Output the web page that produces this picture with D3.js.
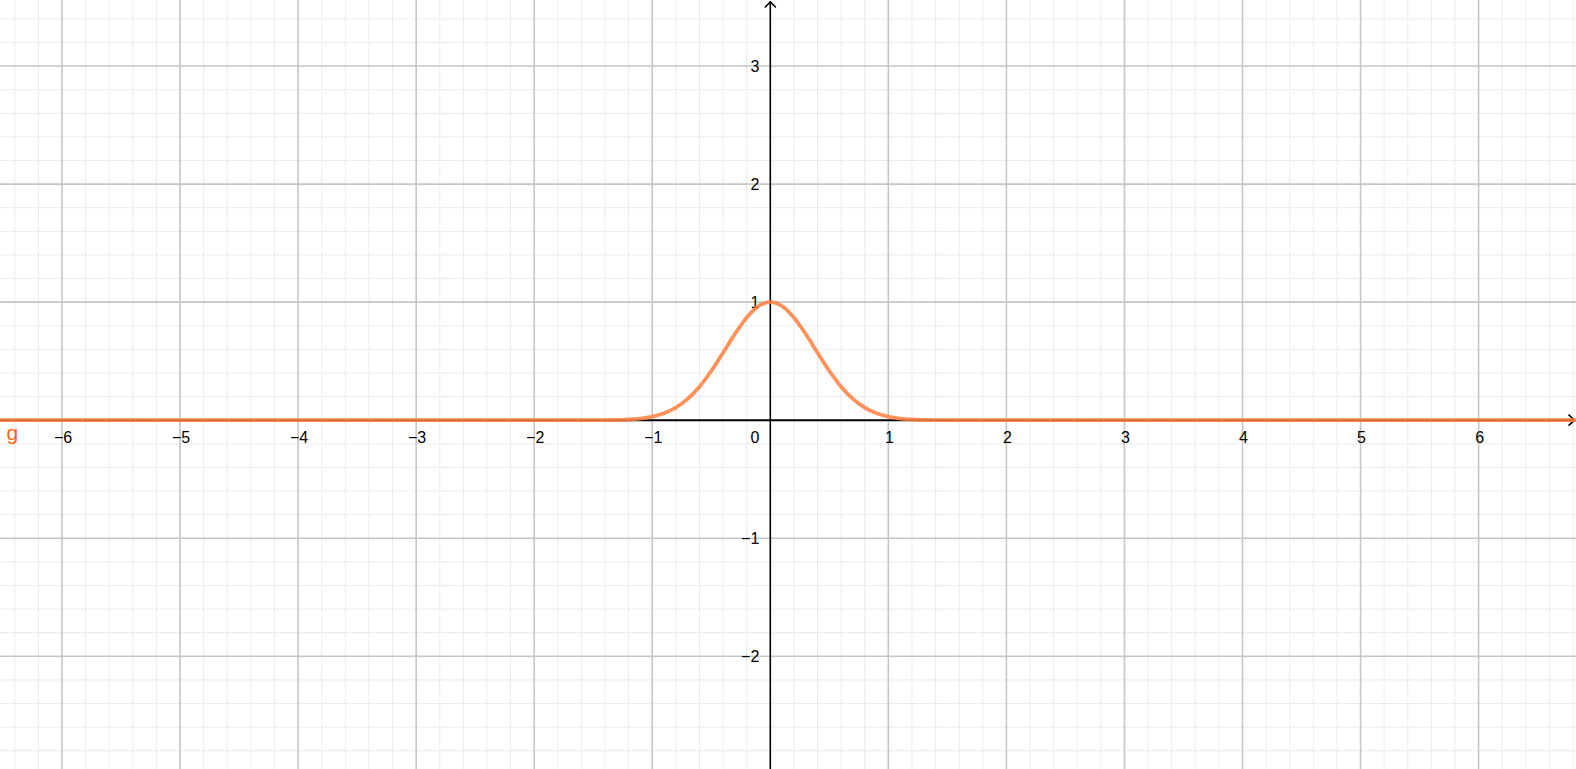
<!DOCTYPE html>
<html>
<head>
<meta charset="utf-8">
<script src="https://cdn.jsdelivr.net/npm/d3@7/dist/d3.min.js"></script>
<style>
html,body{margin:0;padding:0;background:#fff;overflow:hidden;}
svg{display:block;}
</style>
</head>
<body>
<svg id="chart" width="1576" height="769"></svg>
<script>
// ---- data ----
const xTickValues = [-6, -5, -4, -3, -2, -1, 1, 2, 3, 4, 5, 6];
const yTickValues = [-2, -1, 1, 2, 3];
const xTickLabels = ["\u22126", "\u22125", "\u22124", "\u22123", "\u22122", "\u22121", "1", "2", "3", "4", "5", "6"];
const yTickLabels = ["\u22122", "\u22121", "1", "2", "3"];
const originLabel = "0";
const curveName = "g";
const gX = [-6.6, -1.6, -1.5, -1.4, -1.3, -1.2, -1.1, -1.0, -0.9, -0.8, -0.7, -0.6, -0.5, -0.4, -0.3, -0.2, -0.1, 0,
            0.1, 0.2, 0.3, 0.4, 0.5, 0.6, 0.7, 0.8, 0.9, 1.0, 1.1, 1.2, 1.3, 1.4, 1.5, 1.6, 6.9];
const gY = [0, 0, 0.000, 0.001, 0.003, 0.006, 0.014, 0.030, 0.059, 0.106, 0.180, 0.284, 0.417, 0.571, 0.730, 0.869, 0.966, 1.000,
            0.966, 0.869, 0.730, 0.571, 0.417, 0.284, 0.180, 0.106, 0.059, 0.030, 0.014, 0.006, 0.003, 0.001, 0.000, 0, 0];

// ---- layout ----
const W = 1576, H = 769;
const ox = 770.3, oy = 420.2, unit = 118.05;
const x = d3.scaleLinear().domain([-ox / unit, (W - ox) / unit]).range([0, W]);
const y = d3.scaleLinear().domain([-(H - oy) / unit, oy / unit]).range([H, 0]);

const svg = d3.select("#chart");
svg.append("rect").attr("width", W).attr("height", H).attr("fill", "#fff");

// minor grid (every 0.2)
const minorX = d3.range(Math.ceil(x.domain()[0] * 5), Math.floor(x.domain()[1] * 5) + 1).filter(k => k % 5 !== 0).map(k => k / 5);
const minorY = d3.range(Math.ceil(y.domain()[0] * 5), Math.floor(y.domain()[1] * 5) + 1).filter(k => k % 5 !== 0).map(k => k / 5);
const gMinor = svg.append("g").attr("stroke", "#ebebeb").attr("stroke-width", 1);
gMinor.selectAll("line.vx").data(minorX).join("line")
  .attr("x1", d => x(d)).attr("x2", d => x(d)).attr("y1", 0).attr("y2", H);
gMinor.selectAll("line.hy").data(minorY).join("line")
  .attr("y1", d => y(d)).attr("y2", d => y(d)).attr("x1", 0).attr("x2", W);

// major grid
const majorX = d3.range(Math.ceil(x.domain()[0]), Math.floor(x.domain()[1]) + 1).filter(v => v !== 0);
const majorY = d3.range(Math.ceil(y.domain()[0]), Math.floor(y.domain()[1]) + 1).filter(v => v !== 0);
const gMajor = svg.append("g").attr("stroke", "#c6c6c6").attr("stroke-width", 1.6);
gMajor.selectAll("line.vx").data(majorX).join("line")
  .attr("x1", d => x(d)).attr("x2", d => x(d)).attr("y1", 0).attr("y2", H);
gMajor.selectAll("line.hy").data(majorY).join("line")
  .attr("y1", d => y(d)).attr("y2", d => y(d)).attr("x1", 0).attr("x2", W);

// axes
const axG = svg.append("g").attr("stroke", "#000").attr("stroke-width", 1.6).attr("fill", "none");
axG.append("line").attr("x1", 0).attr("x2", W - 1).attr("y1", y(0)).attr("y2", y(0)).attr("stroke-width", 2);
axG.append("line").attr("x1", x(0)).attr("x2", x(0)).attr("y1", H).attr("y2", 1.5);
axG.append("path").attr("d", `M${x(0) - 5.5},${7.5} L${x(0)},${2} L${x(0) + 5.5},${7.5}`);
axG.append("path").attr("d", `M${W - 7.5},${y(0) - 5.5} L${W - 1.5},${y(0)} L${W - 7.5},${y(0) + 5.5}`);

// tick labels
const font = "'Liberation Sans', Arial, sans-serif";
const lab = svg.append("g").attr("font-family", font).attr("font-size", 16).attr("fill", "#000");
lab.selectAll("text.xl").data(xTickValues).join("text")
  .attr("x", d => x(d) + 1).attr("y", y(0) + 22.5).attr("text-anchor", "middle")
  .text((d, i) => xTickLabels[i]);
lab.selectAll("text.yl").data(yTickValues).join("text")
  .attr("x", x(0) - 11).attr("y", d => y(d) + 5.5).attr("text-anchor", "end")
  .text((d, i) => yTickLabels[i]);
lab.append("text").attr("x", x(0) - 11).attr("y", y(0) + 22.5).attr("text-anchor", "end").text(originLabel);

// curve g
const line = d3.line().x((d, i) => x(gX[i])).y(d => y(d)).curve(d3.curveMonotoneX);
svg.append("path").datum(gY).attr("d", line)
  .attr("fill", "none").attr("stroke", "#ff7f3f").attr("stroke-opacity", 0.86)
  .attr("stroke-width", 3.8).attr("stroke-linejoin", "round").attr("stroke-linecap", "round");

// curve name
svg.append("text").attr("x", 6.5).attr("y", 439.5).attr("font-family", font).attr("font-size", 21)
  .attr("fill", "#ff6410").text(curveName);
</script>
</body>
</html>
